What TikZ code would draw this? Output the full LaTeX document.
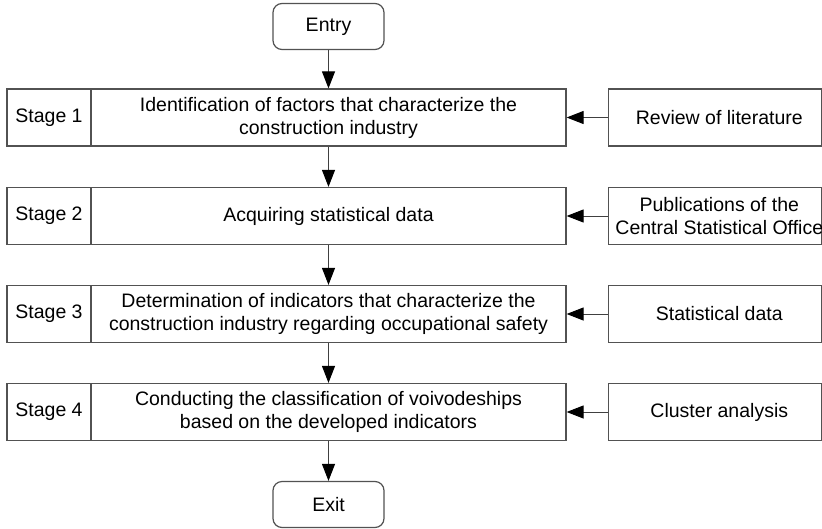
\documentclass[tikz,border=0pt]{standalone}
\usepackage{fontspec}
\setmainfont{Liberation Sans}
\usetikzlibrary{arrows.meta}
\begin{document}
\begin{tikzpicture}[x=1pt,y=-1pt,
  every node/.style={font=\fontsize{19.5}{23}\selectfont, text=black},
  boxline/.style={draw=black!68, line width=1.2pt},
  term/.style={boxline, rounded corners=9pt, minimum width=111pt, minimum height=46pt, inner sep=0pt},
  lab/.style={boxline, minimum width=84pt, minimum height=57pt, inner sep=0pt},
  mainbox/.style={boxline, minimum width=475pt, minimum height=57pt, inner sep=0pt, align=center},
  src/.style={boxline, minimum width=213pt, minimum height=57pt, inner sep=0pt},
  srctext/.style={align=center, inner sep=0pt},
  conn/.style={draw=black!75, line width=1pt, -{Triangle[length=17pt,width=13pt,color=black]}}
]
\useasboundingbox (0,0) rectangle (822,528);
\node[term] (entry) at (328.5,26.5) {Entry};
\node[term] (exit) at (328.5,504.5) {Exit};

\node[lab] (s1) at (49,117.5) {Stage 1};
\node[lab] (s2) at (49,216) {Stage 2};
\node[lab] (s3) at (49,314) {Stage 3};
\node[lab] (s4) at (49,412) {Stage 4};

\node[mainbox] (m1) at (328.5,117.5) {Identification of factors that characterize the\\construction industry};
\node[mainbox] (m2) at (328.5,216) {Acquiring statistical data};
\node[mainbox] (m3) at (328.5,314) {Determination of indicators that characterize the\\construction industry regarding occupational safety};
\node[mainbox] (m4) at (328.5,412) {Conducting the classification of voivodeships\\based on the developed indicators};

\node[src] (r1) at (714.8,117.5) {};
\node[src] (r2) at (714.8,216) {};
\node[src] (r3) at (714.8,314) {};
\node[src] (r4) at (714.8,412) {};
\node[srctext] (r1t) at ([xshift=4.5pt]r1.center) {Review of literature};
\node[srctext] (r2t) at ([xshift=4.5pt]r2.center) {Publications of the\\Central Statistical Office};
\node[srctext] (r3t) at ([xshift=4.5pt]r3.center) {Statistical data};
\node[srctext] (r4t) at ([xshift=4.5pt]r4.center) {Cluster analysis};

\draw[conn] (entry) -- (m1);
\draw[conn] (m1) -- (m2);
\draw[conn] (m2) -- (m3);
\draw[conn] (m3) -- (m4);
\draw[conn] (m4) -- (exit);
\draw[conn] (r1) -- (m1);
\draw[conn] (r2) -- (m2);
\draw[conn] (r3) -- (m3);
\draw[conn] (r4) -- (m4);
\end{tikzpicture}
\end{document}
